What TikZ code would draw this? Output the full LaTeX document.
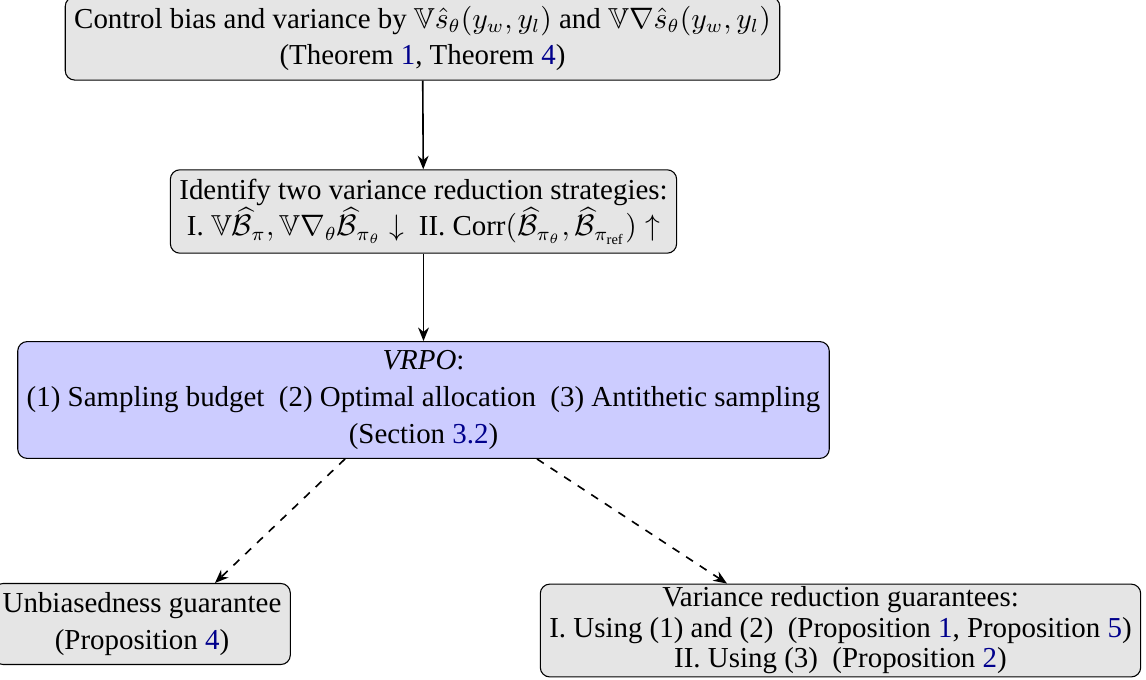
\documentclass[tikz,border=0pt]{standalone}
\usepackage{amsmath}
\usepackage{amssymb}
\usepackage{fontspec}
\setmainfont{Liberation Serif}
\usepackage{xcolor}
\usepackage{tikz}
\usetikzlibrary{arrows.meta}
\definecolor{refblue}{rgb}{0,0,0.55}
\newcommand{\refnum}[1]{\textcolor{refblue}{#1}}

\begin{document}
\begin{tikzpicture}[x=0.37pt, y=-0.37pt,
        stepbox/.style={draw, rounded corners=3.5pt, fill=gray!20, align=center, font=\fontsize{10.7pt}{13.6pt}\selectfont},
        algbox/.style={stepbox, fill=blue!20},
        flow/.style={-{Stealth[length=5pt,width=4pt]}, semithick},
        hint/.style={flow, dashed}
    ]
        \useasboundingbox (0,0) rectangle (1146,679);
        % Main chain
        \node[stepbox] (bias) at (422.5,38.5) {Control bias and variance by $\mathbb{V}\hat{s}_\theta(y_w,y_l)$ and $\mathbb{V}\nabla\hat{s}_\theta(y_w,y_l)$\\(Theorem \refnum{1}, Theorem \refnum{4})};
        \node[stepbox] (ident) at (423.5,211.5) {Identify two variance reduction strategies:\\I. $\mathbb{V}\widehat{\mathcal{B}}_\pi, \mathbb{V}\nabla_\theta\widehat{\mathcal{B}}_{\pi_\theta}\downarrow$\ \ II. $\mathrm{Corr}(\widehat{\mathcal{B}}_{\pi_\theta},\widehat{\mathcal{B}}_{\pi_{\mathrm{ref}}})\uparrow$};
        \node[algbox] (vrpo) at (423.5,400) {\textit{VRPO}:\\(1) Sampling budget\ \ (2) Optimal allocation\ \ (3) Antithetic sampling\\(Section \refnum{3.2})};
        % Guarantees
        \node[stepbox] (unbias) at (142,624) {Unbiasedness guarantee\\(Proposition \refnum{4})};
        \node[stepbox, inner ysep=1pt, font=\fontsize{10.7pt}{11.3pt}\selectfont] (varred) at (840.5,630.5) {Variance reduction guarantees:\\I. Using (1) and (2)\ \ (Proposition \refnum{1}, Proposition \refnum{5})\\II. Using (3)\ \ (Proposition \refnum{2})};
        % Arrows
        \coordinate (vl) at (345,0);
        \coordinate (vr) at (537,0);
        \coordinate (ul) at (215,0);
        \coordinate (ur) at (727,0);
        \draw[flow] (bias) -- (ident);
        \draw[flow] (ident) -- (vrpo);
        \draw[hint] (vrpo.south -| vl) -- (unbias.north -| ul);
        \draw[hint] (vrpo.south -| vr) -- (varred.north -| ur);
    \end{tikzpicture}
\end{document}
